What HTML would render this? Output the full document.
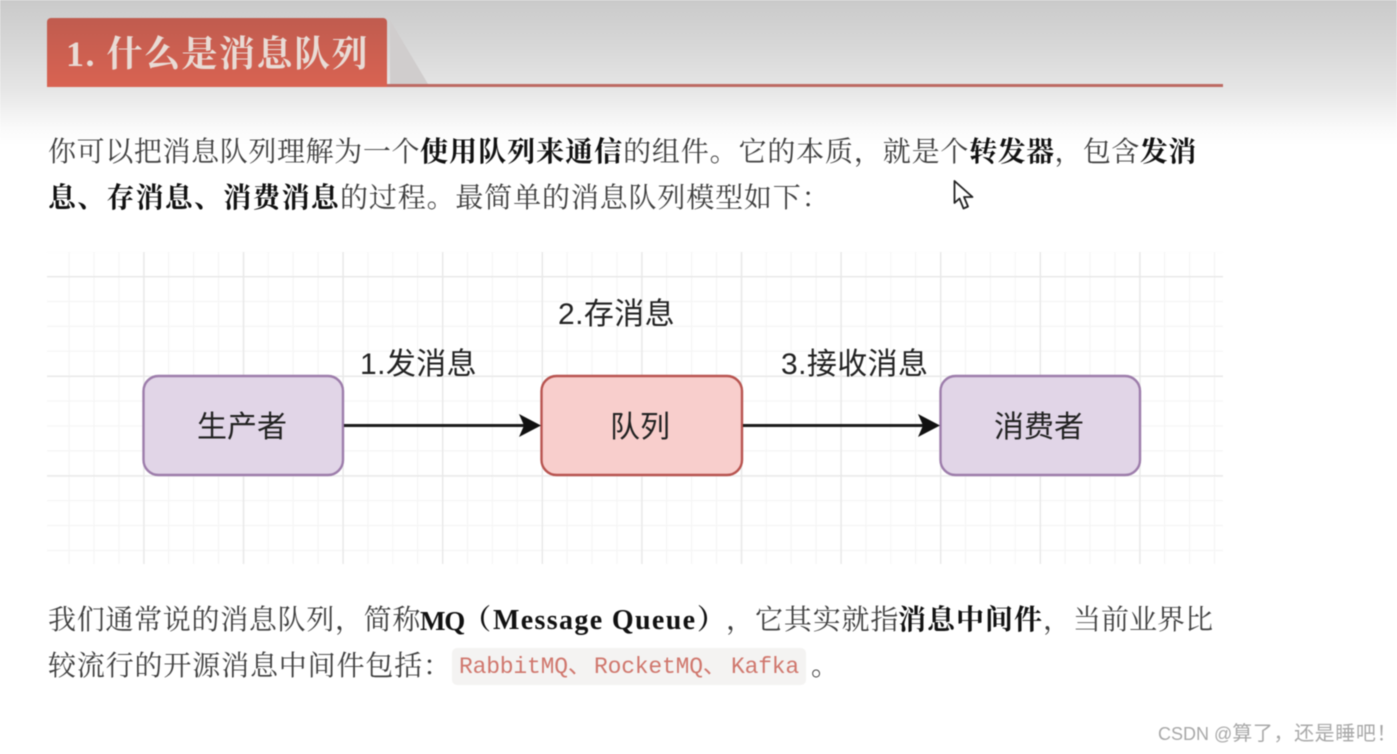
<!DOCTYPE html>
<html lang="zh">
<head>
<meta charset="utf-8">
<style>
html,body{margin:0;padding:0;width:1397px;height:754px;overflow:hidden;background:#fff}
#w{position:absolute;left:0;top:0;width:1397px;height:754px;filter:blur(.45px)}
.bg{position:absolute;left:0;top:0;width:1397px;height:150px;background:linear-gradient(#cacaca 0,#d7d7d7 45px,#e6e6e6 90px,#fafafa 128px,#fff 145px)}
.tx{position:absolute;white-space:nowrap;font-family:"Liberation Serif","Noto Serif CJK SC",serif;font-size:28px;letter-spacing:.85px;line-height:36px;color:#3f3f3f}
.tx b{color:#111;font-weight:700;letter-spacing:1px}
.tag{position:absolute;left:47px;top:18px;width:340px;height:69px;background:linear-gradient(#c05c4f,#d96352);border-radius:4px 4px 0 0}
.title{position:absolute;left:66px;top:31px;white-space:nowrap;font-family:"Liberation Serif","Noto Serif CJK SC",serif;font-weight:700;font-size:36px;line-height:46px;letter-spacing:1.5px;color:#e9dbd5}
.line{position:absolute;left:387px;top:84px;width:836px;height:3px;background:#bd6a63}
.lbl{position:absolute;white-space:nowrap;font-family:"Liberation Sans","Noto Sans CJK SC",sans-serif;font-size:30px;line-height:36px;color:#222}
.e{letter-spacing:.4px}
.code{position:absolute;left:452px;top:648px;width:354px;height:37px;background:#f4f3f2;border-radius:5px}
.codet{position:absolute;top:650px;white-space:nowrap;font-family:"Liberation Mono","Noto Sans CJK SC",monospace;font-size:23px;line-height:34px;color:#d0776d;letter-spacing:-.2px}
.wm{position:absolute;left:1158px;top:722px;white-space:nowrap;font-family:"Liberation Sans","Noto Sans CJK SC",sans-serif;font-size:18px;line-height:24px;color:#a8a8a8}
.wm span{font-size:20px;letter-spacing:.6px}
</style>
</head>
<body>
<div id="w">
<div class="bg"></div>

<svg style="position:absolute;left:0;top:0" width="1397" height="754">
  <polygon points="390,20 428,84 390,84" fill="#d0cdcd"/>
  <defs>
    <pattern id="minor" x="43.6" y="251" width="24.9" height="24.9" patternUnits="userSpaceOnUse">
      <path d="M0.500 0V24.900M0 0.500H24.900" stroke="#f5f5f5" stroke-width="1.400" fill="none"/>
    </pattern>
    <pattern id="major" x="43.6" y="276" width="99.6" height="99.6" patternUnits="userSpaceOnUse">
      <path d="M0.500 0V99.600M0 0.500H99.600" stroke="#e8e8e8" stroke-width="1.800" fill="none"/>
    </pattern>
  </defs>
  <rect x="47" y="252" width="1176" height="312" fill="url(#minor)"/>
  <rect x="47" y="252" width="1176" height="312" fill="url(#major)"/>

  <rect x="143.500" y="376" width="199.500" height="99" rx="15" fill="#e1d5e7" stroke="#9d7dab" stroke-width="2.400"/>
  <rect x="541.500" y="376" width="200.500" height="99" rx="15" fill="#f8cecc" stroke="#b85450" stroke-width="2.400"/>
  <rect x="940.500" y="376" width="199.500" height="99" rx="15" fill="#e1d5e7" stroke="#9d7dab" stroke-width="2.400"/>

  <line x1="344" y1="425.500" x2="525" y2="425.500" stroke="#1c1c1c" stroke-width="3"/>
  <polygon points="519,414 541,425.500 519,437 524,425.500" fill="#111"/>
  <line x1="743" y1="425.500" x2="924" y2="425.500" stroke="#1c1c1c" stroke-width="3"/>
  <polygon points="918,414 940,425.500 918,437 923,425.500" fill="#111"/>

  <path d="M954.500 181 L954.500 203 L959.500 198.500 L963.500 208.500 L968 206.500 L964 197 L972.500 197 Z" fill="#fff" stroke="#222" stroke-width="1.800" stroke-linejoin="round"/>
</svg>

<div class="tag"></div>
<div class="line"></div>
<div class="title">1. 什么是消息队列</div>

<div class="tx" style="left:48px;top:135px"><span style="letter-spacing:.62px">你可以把消息队列理解为一个</span><b>使用队列来通信</b>的组件。它的本质，就是个<b style="letter-spacing:.4px">转发器</b><span style="letter-spacing:.4px">，包含</span><b style="letter-spacing:.6px">发消</b></div>
<div class="tx" style="left:48px;top:181px"><b style="letter-spacing:1.200px">息、存消息、消费消息</b>的过程。最简单的消息队列模型如下：</div>

<div class="lbl e" style="left:360px;top:347px">1.发消息</div>
<div class="lbl e" style="left:558px;top:297px">2.存消息</div>
<div class="lbl e" style="left:781px;top:347px">3.接收消息</div>
<div class="lbl" style="left:197px;top:410px">生产者</div>
<div class="lbl" style="left:610px;top:410px">队列</div>
<div class="lbl" style="left:994px;top:410px">消费者</div>

<div class="tx" style="left:48px;top:603px"><span style="letter-spacing:.7px">我们通常说的消息队列，简称</span></div>
<div class="tx" style="left:420px;top:603px"><b style="letter-spacing:-1.200px;font-size:27px">MQ</b></div>
<div class="tx" style="left:463px;top:603px"><b>（</b></div>
<div class="tx" style="left:493px;top:603px"><b style="letter-spacing:1.350px">Message Queue</b></div>
<div class="tx" style="left:697px;top:603px"><b>）</b></div>
<div class="tx" style="left:726px;top:603px">，</div>
<div class="tx" style="left:755px;top:603px">它其实就指</div>
<div class="tx" style="left:898px;top:603px"><b>消息中间件</b></div>
<div class="tx" style="left:1043px;top:603px">，</div>
<div class="tx" style="left:1073px;top:603px;letter-spacing:0">当前业界比</div>

<div class="tx" style="left:48px;top:649px">较流行的开源消息中间件包括：</div>
<div class="code"></div>
<div class="codet" style="left:459px">RabbitMQ、</div>
<div class="codet" style="left:594px">RocketMQ、</div>
<div class="codet" style="left:731px">Kafka</div>
<div class="tx" style="left:811px;top:649px">。</div>

<div class="wm">CSDN @<span>算了，还是睡吧！</span></div>
</div>
</body>
</html>
